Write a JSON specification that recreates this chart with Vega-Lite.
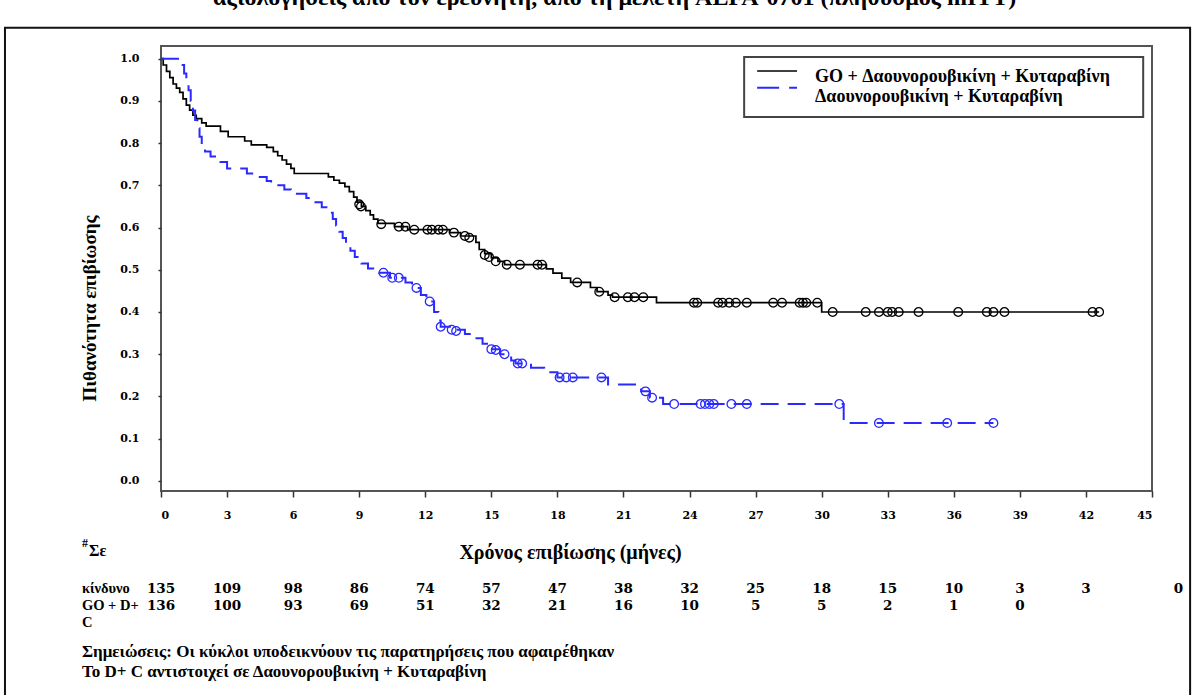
{
  "$schema": "https://vega.github.io/schema/vega-lite/v6.json",
  "width": 991,
  "height": 445,
  "autosize": {"type": "none"},
  "padding": {"left": 161, "top": 46, "right": 43, "bottom": 204},
  "background": "white",
  "config": {"view": {"stroke": "#555", "strokeWidth": 2}, "font": "Liberation Serif"},
  "datasets": {
    "go_steps": [
      {"t": 0, "s": 1.0}, {"t": 0.1, "s": 0.985}, {"t": 0.25, "s": 0.97}, {"t": 0.4, "s": 0.955}, {"t": 0.55, "s": 0.94},
      {"t": 0.7, "s": 0.93}, {"t": 0.85, "s": 0.92}, {"t": 1.0, "s": 0.905}, {"t": 1.15, "s": 0.89}, {"t": 1.3, "s": 0.878},
      {"t": 1.45, "s": 0.866}, {"t": 1.6, "s": 0.858}, {"t": 1.85, "s": 0.848}, {"t": 2.05, "s": 0.84}, {"t": 2.7, "s": 0.828},
      {"t": 3.05, "s": 0.815}, {"t": 3.8, "s": 0.805}, {"t": 4.1, "s": 0.796}, {"t": 4.8, "s": 0.79}, {"t": 5.1, "s": 0.78},
      {"t": 5.3, "s": 0.77}, {"t": 5.5, "s": 0.76}, {"t": 5.7, "s": 0.75}, {"t": 5.9, "s": 0.74}, {"t": 6.05, "s": 0.728},
      {"t": 7.6, "s": 0.72}, {"t": 7.85, "s": 0.712}, {"t": 8.1, "s": 0.705}, {"t": 8.35, "s": 0.697}, {"t": 8.55, "s": 0.685},
      {"t": 8.75, "s": 0.672}, {"t": 8.9, "s": 0.66}, {"t": 9.1, "s": 0.65}, {"t": 9.3, "s": 0.64}, {"t": 9.5, "s": 0.63},
      {"t": 9.65, "s": 0.62}, {"t": 9.85, "s": 0.61}, {"t": 10.6, "s": 0.602}, {"t": 11.2, "s": 0.595}, {"t": 13.1, "s": 0.588},
      {"t": 13.6, "s": 0.58}, {"t": 14.3, "s": 0.565}, {"t": 14.45, "s": 0.548}, {"t": 14.7, "s": 0.538}, {"t": 15.0, "s": 0.528},
      {"t": 15.3, "s": 0.52}, {"t": 15.6, "s": 0.512}, {"t": 17.5, "s": 0.502}, {"t": 17.8, "s": 0.492}, {"t": 18.2, "s": 0.48},
      {"t": 18.6, "s": 0.47}, {"t": 19.5, "s": 0.458}, {"t": 19.8, "s": 0.448}, {"t": 20.3, "s": 0.44}, {"t": 20.5, "s": 0.435},
      {"t": 22.5, "s": 0.422}, {"t": 30.0, "s": 0.4}, {"t": 42.6, "s": 0.4}
    ],
    "da_steps": [
      {"t": 0, "s": 1.0}, {"t": 0.9, "s": 0.985}, {"t": 1.05, "s": 0.965}, {"t": 1.15, "s": 0.945}, {"t": 1.25, "s": 0.925},
      {"t": 1.35, "s": 0.9}, {"t": 1.45, "s": 0.877}, {"t": 1.55, "s": 0.855}, {"t": 1.65, "s": 0.835}, {"t": 1.75, "s": 0.815},
      {"t": 1.85, "s": 0.796}, {"t": 2.0, "s": 0.78}, {"t": 2.25, "s": 0.768}, {"t": 2.7, "s": 0.755}, {"t": 3.0, "s": 0.74},
      {"t": 3.9, "s": 0.728}, {"t": 4.4, "s": 0.72}, {"t": 4.8, "s": 0.71}, {"t": 5.0, "s": 0.7}, {"t": 5.6, "s": 0.69},
      {"t": 5.9, "s": 0.68}, {"t": 6.6, "s": 0.67}, {"t": 6.9, "s": 0.66}, {"t": 7.3, "s": 0.648}, {"t": 7.6, "s": 0.635},
      {"t": 7.8, "s": 0.62}, {"t": 7.95, "s": 0.605}, {"t": 8.1, "s": 0.59}, {"t": 8.25, "s": 0.575}, {"t": 8.4, "s": 0.56},
      {"t": 8.6, "s": 0.545}, {"t": 8.8, "s": 0.53}, {"t": 9.1, "s": 0.515}, {"t": 9.4, "s": 0.503}, {"t": 9.9, "s": 0.493},
      {"t": 10.4, "s": 0.481}, {"t": 11.1, "s": 0.47}, {"t": 11.4, "s": 0.457}, {"t": 11.8, "s": 0.44}, {"t": 12.05, "s": 0.425},
      {"t": 12.4, "s": 0.4}, {"t": 12.6, "s": 0.38}, {"t": 12.7, "s": 0.365}, {"t": 13.2, "s": 0.358}, {"t": 13.8, "s": 0.348},
      {"t": 14.2, "s": 0.338}, {"t": 14.6, "s": 0.325}, {"t": 14.9, "s": 0.312}, {"t": 15.4, "s": 0.3}, {"t": 15.9, "s": 0.285},
      {"t": 16.1, "s": 0.278}, {"t": 16.8, "s": 0.268}, {"t": 17.4, "s": 0.257}, {"t": 18.0, "s": 0.245}, {"t": 20.3, "s": 0.228},
      {"t": 21.8, "s": 0.212}, {"t": 22.2, "s": 0.197}, {"t": 22.8, "s": 0.182}, {"t": 31.0, "s": 0.137}, {"t": 37.8, "s": 0.137}
    ],
    "go_cens": [
      {"t": 9.0, "s": 0.655}, {"t": 9.08, "s": 0.65}, {"t": 10.0, "s": 0.608}, {"t": 10.8, "s": 0.602}, {"t": 11.1, "s": 0.602},
      {"t": 11.5, "s": 0.595}, {"t": 12.1, "s": 0.595}, {"t": 12.3, "s": 0.595}, {"t": 12.6, "s": 0.595}, {"t": 12.8, "s": 0.595},
      {"t": 13.3, "s": 0.588}, {"t": 13.8, "s": 0.58}, {"t": 14.0, "s": 0.576}, {"t": 14.7, "s": 0.535}, {"t": 14.9, "s": 0.53},
      {"t": 15.2, "s": 0.52}, {"t": 15.7, "s": 0.512}, {"t": 16.3, "s": 0.512}, {"t": 17.1, "s": 0.512}, {"t": 17.3, "s": 0.512},
      {"t": 18.9, "s": 0.47}, {"t": 19.9, "s": 0.448}, {"t": 20.6, "s": 0.435}, {"t": 21.2, "s": 0.435}, {"t": 21.5, "s": 0.435},
      {"t": 21.9, "s": 0.435}, {"t": 24.2, "s": 0.422}, {"t": 24.35, "s": 0.422}, {"t": 25.3, "s": 0.422}, {"t": 25.5, "s": 0.422},
      {"t": 25.8, "s": 0.422}, {"t": 26.1, "s": 0.422}, {"t": 26.6, "s": 0.422}, {"t": 27.8, "s": 0.422}, {"t": 28.2, "s": 0.422},
      {"t": 29.0, "s": 0.422}, {"t": 29.15, "s": 0.422}, {"t": 29.3, "s": 0.422}, {"t": 29.8, "s": 0.422}, {"t": 30.5, "s": 0.4},
      {"t": 32.0, "s": 0.4}, {"t": 32.6, "s": 0.4}, {"t": 33.0, "s": 0.4}, {"t": 33.2, "s": 0.4}, {"t": 33.5, "s": 0.4},
      {"t": 34.4, "s": 0.4}, {"t": 36.2, "s": 0.4}, {"t": 37.5, "s": 0.4}, {"t": 37.8, "s": 0.4}, {"t": 38.3, "s": 0.4},
      {"t": 42.3, "s": 0.4}, {"t": 42.6, "s": 0.4}
    ],
    "da_cens": [
      {"t": 10.1, "s": 0.493}, {"t": 10.5, "s": 0.481}, {"t": 10.8, "s": 0.481}, {"t": 11.6, "s": 0.457}, {"t": 12.2, "s": 0.425},
      {"t": 12.7, "s": 0.365}, {"t": 13.2, "s": 0.358}, {"t": 13.4, "s": 0.355}, {"t": 15.0, "s": 0.312}, {"t": 15.2, "s": 0.31},
      {"t": 15.6, "s": 0.3}, {"t": 16.2, "s": 0.278}, {"t": 16.4, "s": 0.278}, {"t": 18.1, "s": 0.245}, {"t": 18.4, "s": 0.245},
      {"t": 18.7, "s": 0.245}, {"t": 20.0, "s": 0.245}, {"t": 22.0, "s": 0.212}, {"t": 22.3, "s": 0.197}, {"t": 23.3, "s": 0.182},
      {"t": 24.5, "s": 0.182}, {"t": 24.7, "s": 0.182}, {"t": 24.9, "s": 0.182}, {"t": 25.1, "s": 0.182}, {"t": 25.9, "s": 0.182},
      {"t": 26.6, "s": 0.182}, {"t": 30.8, "s": 0.182}, {"t": 32.6, "s": 0.137}, {"t": 35.7, "s": 0.137}, {"t": 37.8, "s": 0.137}
    ],
    "risk": [
      {"row": "GO", "t": 0, "n": 135}, {"row": "GO", "t": 3, "n": 109}, {"row": "GO", "t": 6, "n": 98}, {"row": "GO", "t": 9, "n": 86},
      {"row": "GO", "t": 12, "n": 74}, {"row": "GO", "t": 15, "n": 57}, {"row": "GO", "t": 18, "n": 47}, {"row": "GO", "t": 21, "n": 38},
      {"row": "GO", "t": 24, "n": 32}, {"row": "GO", "t": 27, "n": 25}, {"row": "GO", "t": 30, "n": 18}, {"row": "GO", "t": 33, "n": 15},
      {"row": "GO", "t": 36, "n": 10}, {"row": "GO", "t": 39, "n": 3}, {"row": "GO", "t": 42, "n": 3}, {"row": "GO", "t": 46.2, "n": 0},
      {"row": "DC", "t": 0, "n": 136}, {"row": "DC", "t": 3, "n": 100}, {"row": "DC", "t": 6, "n": 93}, {"row": "DC", "t": 9, "n": 69},
      {"row": "DC", "t": 12, "n": 51}, {"row": "DC", "t": 15, "n": 32}, {"row": "DC", "t": 18, "n": 21}, {"row": "DC", "t": 21, "n": 16},
      {"row": "DC", "t": 24, "n": 10}, {"row": "DC", "t": 27, "n": 5}, {"row": "DC", "t": 30, "n": 5}, {"row": "DC", "t": 33, "n": 2},
      {"row": "DC", "t": 36, "n": 1}, {"row": "DC", "t": 39, "n": 0}
    ],
    "one": [{}]
  },
  "layer": [
    {
      "data": {"name": "one"},
      "mark": {"type": "rect", "fillOpacity": 0, "stroke": "#111", "strokeWidth": 2, "clip": false},
      "encoding": {"x": {"datum": -7.085}, "x2": {"datum": 46.73}, "y": {"datum": 1.073}, "y2": {"datum": -0.55}}
    },
    {
      "data": {"name": "go_steps"},
      "mark": {"type": "line", "interpolate": "step-after", "color": "#000", "strokeWidth": 1.7},
      "encoding": {
        "x": {"field": "t", "type": "quantitative", "scale": {"domain": [0, 45], "nice": false, "zero": false},
          "axis": {"values": [0, 3, 6, 9, 12, 15, 18, 21, 24, 27, 30, 33, 36, 39, 42, 45], "grid": false, "domain": false,
            "tickSize": 6, "tickColor": "#333", "tickWidth": 1.5, "labelPadding": 12, "labelFont": "DejaVu Serif", "labelFontWeight": "bold",
            "labelFontSize": 11, "labelColor": "#000", "title": "Χρόνος επιβίωσης (μήνες)", "titleFont": "Liberation Serif",
            "titleFontSize": 20, "titleFontWeight": "bold", "titleColor": "#000", "titleX": 409, "titleY": 61, "titleBaseline": "middle"}},
        "y": {"field": "s", "type": "quantitative", "scale": {"domain": [-0.024, 1.03], "nice": false, "zero": false},
          "axis": {"values": [0, 0.1, 0.2, 0.3, 0.4, 0.5, 0.6, 0.7, 0.8, 0.9, 1.0], "format": ".1f", "grid": false, "domain": false,
            "tickSize": 3, "tickColor": "#333", "tickWidth": 1.5, "labelPadding": 19, "labelFont": "DejaVu Serif", "labelFontWeight": "bold",
            "labelFontSize": 11, "labelColor": "#000", "title": "Πιθανότητα επιβίωσης", "titleFont": "Liberation Serif",
            "titleFontSize": 19, "titleFontWeight": "bold", "titleColor": "#000", "titleX": -72, "titleY": 262, "titleBaseline": "middle"}}
      }
    },
    {
      "data": {"name": "da_steps"},
      "mark": {"type": "line", "interpolate": "step-after", "color": "#2a2aff", "strokeWidth": 2, "strokeDash": [18, 9]},
      "encoding": {"x": {"field": "t", "type": "quantitative"}, "y": {"field": "s", "type": "quantitative"}}
    },
    {
      "data": {"name": "go_cens"},
      "mark": {"type": "point", "shape": "circle", "filled": false, "size": 75, "color": "#000", "strokeWidth": 1.3, "opacity": 1},
      "encoding": {"x": {"field": "t", "type": "quantitative"}, "y": {"field": "s", "type": "quantitative"}}
    },
    {
      "data": {"name": "da_cens"},
      "mark": {"type": "point", "shape": "circle", "filled": false, "size": 75, "color": "#2a2aff", "strokeWidth": 1.3, "opacity": 1},
      "encoding": {"x": {"field": "t", "type": "quantitative"}, "y": {"field": "s", "type": "quantitative"}}
    },
    {
      "data": {"name": "one"},
      "mark": {"type": "rect", "fillOpacity": 0, "stroke": "#444", "strokeWidth": 2, "clip": false},
      "encoding": {"x": {"datum": 26.48}, "x2": {"datum": 44.6}, "y": {"datum": 1.004}, "y2": {"datum": 0.862}}
    },
    {
      "data": {"name": "one"},
      "mark": {"type": "rule", "color": "#000", "strokeWidth": 1.5},
      "encoding": {"x": {"datum": 27.07}, "x2": {"datum": 28.88}, "y": {"datum": 0.971}}
    },
    {
      "data": {"name": "one"},
      "mark": {"type": "rule", "color": "#2a2aff", "strokeWidth": 2, "strokeDash": [22, 10]},
      "encoding": {"x": {"datum": 27.07}, "x2": {"datum": 28.88}, "y": {"datum": 0.931}}
    },
    {
      "data": {"name": "one"},
      "mark": {"type": "text", "text": "GO + Δαουνορουβικίνη + Κυταραβίνη", "align": "left", "baseline": "middle", "font": "Liberation Serif", "fontWeight": "bold", "fontSize": 18, "color": "#000"},
      "encoding": {"x": {"datum": 29.7}, "y": {"datum": 0.956}}
    },
    {
      "data": {"name": "one"},
      "mark": {"type": "text", "text": "Δαουνορουβικίνη + Κυταραβίνη", "align": "left", "baseline": "middle", "font": "Liberation Serif", "fontWeight": "bold", "fontSize": 18, "color": "#000"},
      "encoding": {"x": {"datum": 29.7}, "y": {"datum": 0.909}}
    },
    {
      "data": {"name": "one"},
      "mark": {"type": "text", "text": "αξιολογήσεις από τον ερευνητή, από τη μελέτη ALFA-0701 (πληθυσμός mITT)", "align": "center", "baseline": "alphabetic", "font": "Liberation Serif", "fontWeight": "bold", "fontSize": 24, "color": "#000", "clip": false},
      "encoding": {"x": {"datum": 20.6}, "y": {"datum": 1.127}}
    },
    {
      "data": {"name": "risk"},
      "transform": [{"filter": "datum.row === 'GO'"}],
      "mark": {"type": "text", "align": "center", "baseline": "middle", "font": "DejaVu Serif", "fontWeight": "bold", "fontSize": 13.5, "color": "#000", "clip": false},
      "encoding": {"x": {"field": "t", "type": "quantitative"}, "y": {"datum": -0.256}, "text": {"field": "n", "type": "quantitative"}}
    },
    {
      "data": {"name": "risk"},
      "transform": [{"filter": "datum.row === 'DC'"}],
      "mark": {"type": "text", "align": "center", "baseline": "middle", "font": "DejaVu Serif", "fontWeight": "bold", "fontSize": 13.5, "color": "#000", "clip": false},
      "encoding": {"x": {"field": "t", "type": "quantitative"}, "y": {"datum": -0.296}, "text": {"field": "n", "type": "quantitative"}}
    },
    {
      "data": {"name": "one"},
      "mark": {"type": "text", "text": "#", "align": "left", "baseline": "middle", "font": "Liberation Serif", "fontWeight": "bold", "fontSize": 12, "color": "#000"},
      "encoding": {"x": {"datum": -3.59}, "y": {"datum": -0.147}}
    },
    {
      "data": {"name": "one"},
      "mark": {"type": "text", "text": "Σε", "align": "left", "baseline": "middle", "font": "Liberation Serif", "fontWeight": "bold", "fontSize": 16, "color": "#000"},
      "encoding": {"x": {"datum": -3.27}, "y": {"datum": -0.166}}
    },
    {
      "data": {"name": "one"},
      "mark": {"type": "text", "text": "κίνδυνο", "align": "left", "baseline": "middle", "font": "Liberation Serif", "fontWeight": "bold", "fontSize": 14.5, "color": "#000"},
      "encoding": {"x": {"datum": -3.59}, "y": {"datum": -0.256}}
    },
    {
      "data": {"name": "one"},
      "mark": {"type": "text", "text": "GO + D+", "align": "left", "baseline": "middle", "font": "Liberation Serif", "fontWeight": "bold", "fontSize": 14.5, "color": "#000"},
      "encoding": {"x": {"datum": -3.59}, "y": {"datum": -0.296}}
    },
    {
      "data": {"name": "one"},
      "mark": {"type": "text", "text": "C", "align": "left", "baseline": "middle", "font": "Liberation Serif", "fontWeight": "bold", "fontSize": 14.5, "color": "#000"},
      "encoding": {"x": {"datum": -3.59}, "y": {"datum": -0.337}}
    },
    {
      "data": {"name": "one"},
      "mark": {"type": "text", "text": "Σημειώσεις: Οι κύκλοι υποδεικνύουν τις παρατηρήσεις που αφαιρέθηκαν", "align": "left", "baseline": "middle", "font": "Liberation Serif", "fontWeight": "bold", "fontSize": 17, "color": "#000"},
      "encoding": {"x": {"datum": -3.59}, "y": {"datum": -0.405}}
    },
    {
      "data": {"name": "one"},
      "mark": {"type": "text", "text": "Το D+ C αντιστοιχεί σε Δαουνορουβικίνη + Κυταραβίνη", "align": "left", "baseline": "middle", "font": "Liberation Serif", "fontWeight": "bold", "fontSize": 17, "color": "#000"},
      "encoding": {"x": {"datum": -3.59}, "y": {"datum": -0.453}}
    }
  ]
}
